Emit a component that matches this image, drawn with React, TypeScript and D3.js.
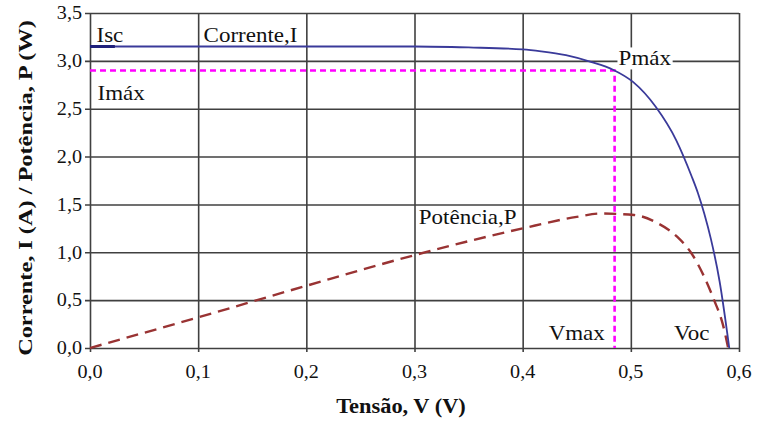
import React, { useRef, useEffect } from 'react';
import * as d3 from 'd3';

// I-V curve of the cell
const voltage = [0, 0.1, 0.2, 0.3, 0.35, 0.4, 0.417, 0.44, 0.463, 0.484, 0.502, 0.523, 0.542, 0.556, 0.562, 0.568, 0.574, 0.582, 0.591];
const current = [3.15, 3.15, 3.15, 3.15, 3.14, 3.12, 3.1, 3.06, 2.99, 2.905, 2.78, 2.52, 2.17, 1.8, 1.62, 1.4, 1.14, 0.7, 0.0];

// P-V curve
const powerVoltage = [0, 0.1, 0.2, 0.3, 0.4, 0.45, 0.472, 0.503, 0.522, 0.543, 0.556, 0.568, 0.577, 0.585, 0.59];
const power = [0, 0.32, 0.65, 0.97, 1.25, 1.37, 1.405, 1.39, 1.32, 1.16, 0.99, 0.74, 0.5, 0.25, 0];

// short highlighted Isc segment
const iscVoltage = [0, 0.023];
const iscCurrent = [3.15, 3.15];

const vMax = 0.485;
const iMax = 2.9;

const xTicks = [0, 0.1, 0.2, 0.3, 0.4, 0.5, 0.6];
const yTicks = [0, 0.5, 1.0, 1.5, 2.0, 2.5, 3.0, 3.5];

const labels = [
  { text: 'Isc', v: 0.006, y: 3.2 },
  { text: 'Corrente,I', v: 0.105, y: 3.2 },
  { text: 'Imáx', v: 0.007, y: 2.59 },
  { text: 'Potência,P', v: 0.304, y: 1.3 },
  { text: 'Vmax', v: 0.424, y: 0.08 },
  { text: 'Voc', v: 0.54, y: 0.08 },
];

const fmt = (d: number) => d3.format('.1f')(d).replace('.', ',');

export default function App() {
  const svgRef = useRef<SVGSVGElement>(null);

  useEffect(() => {
    if (!svgRef.current) return;
    const svg = d3.select(svgRef.current);
    svg.selectAll('*').remove();

    const margin = { top: 13, right: 22, bottom: 78, left: 90 };
    const width = 761 - margin.left - margin.right;
    const height = 426 - margin.top - margin.bottom;
    const font = 'Liberation Serif';

    const g = svg.append('g').attr('transform', `translate(${margin.left},${margin.top})`);

    const x = d3.scaleLinear().domain([0, 0.6]).range([0, width]);
    const y = d3.scaleLinear().domain([0, 3.5]).range([height, 0]);

    // grid + ticks
    g.append('g')
      .attr('transform', `translate(0,${height})`)
      .call(d3.axisBottom(x).tickValues(xTicks).tickSize(-height - 4).tickSizeOuter(0).tickFormat(() => ''))
      .call(a => a.select('.domain').remove())
      .call(a => a.selectAll('.tick line').attr('transform', 'translate(0,4)').attr('stroke', '#404040').attr('stroke-width', 1.6));

    g.append('g')
      .call(d3.axisLeft(y).tickValues(yTicks).tickSize(-width - 5).tickSizeOuter(0).tickFormat(() => ''))
      .call(a => a.select('.domain').remove())
      .call(a => a.selectAll('.tick line').attr('transform', 'translate(-5,0)').attr('stroke', '#404040').attr('stroke-width', 1.6));

    // tick labels
    g.selectAll('.xlab')
      .data(xTicks)
      .join('text')
      .attr('transform', d => `translate(${x(d)},${height + 30}) scale(1.12,1)`)
      .attr('text-anchor', 'middle')
      .attr('font-family', font).attr('font-size', 18).attr('fill', '#111')
      .text(fmt);

    g.selectAll('.ylab')
      .data(yTicks)
      .join('text')
      .attr('transform', d => `translate(-8,${y(d)}) scale(1.12,1)`)
      .attr('text-anchor', 'end')
      .attr('dy', '0.35em')
      .attr('font-family', font).attr('font-size', 18).attr('fill', '#111')
      .text(fmt);

    // axis titles
    svg.append('text')
      .attr('transform', `translate(401,413) scale(1.12,1)`)
      .attr('text-anchor', 'middle')
      .attr('font-family', font).attr('font-size', 20).attr('font-weight', 'bold').attr('fill', '#111')
      .text('Tensão, V (V)');

    svg.append('text')
      .attr('transform', `translate(32,188) rotate(-90) scale(1.28,1)`)
      .attr('text-anchor', 'middle')
      .attr('font-family', font).attr('font-size', 19).attr('font-weight', 'bold').attr('fill', '#111')
      .text('Corrente, I (A) / Potência, P (W)');

    // Pmáx label with white box
    const pm = g.append('g').attr('transform', `translate(${x(vMax) + 4},${y(iMax) - 5}) scale(1.15,1)`);
    pm.append('rect').attr('x', -1).attr('y', -18).attr('width', 48).attr('height', 22).attr('fill', '#fff');
    pm.append('text')
      .attr('font-family', font).attr('font-size', 20).attr('fill', '#111')
      .text('Pmáx');

    // max power guides
    g.append('path')
      .datum([[0, iMax], [vMax, iMax], [vMax, 0]] as [number, number][])
      .attr('fill', 'none')
      .attr('stroke', '#ff00ff')
      .attr('stroke-width', 2.6)
      .attr('stroke-dasharray', '6,4')
      .attr('d', d3.line<[number, number]>().x(d => x(d[0])).y(d => y(d[1])));

    // power curve
    const pData = powerVoltage.map((v, i) => [v, power[i]] as [number, number]);
    g.append('path')
      .datum(pData)
      .attr('fill', 'none')
      .attr('stroke', '#993333')
      .attr('stroke-width', 2.4)
      .attr('stroke-dasharray', '12,7')
      .attr('d', d3.line<[number, number]>().x(d => x(d[0])).y(d => y(d[1])).curve(d3.curveMonotoneX));

    // current curve
    const iData = voltage.map((v, i) => [v, current[i]] as [number, number]);
    g.append('path')
      .datum(iData)
      .attr('fill', 'none')
      .attr('stroke', '#3a3a9a')
      .attr('stroke-width', 1.8)
      .attr('d', d3.line<[number, number]>().x(d => x(d[0])).y(d => y(d[1])).curve(d3.curveMonotoneX));

    const iscData = iscVoltage.map((v, i) => [v, iscCurrent[i]] as [number, number]);
    g.append('path')
      .datum(iscData)
      .attr('fill', 'none')
      .attr('stroke', '#20207a')
      .attr('stroke-width', 3)
      .attr('d', d3.line<[number, number]>().x(d => x(d[0])).y(d => y(d[1])));

    // annotations
    g.selectAll('.ann')
      .data(labels)
      .join('text')
      .attr('transform', d => `translate(${x(d.v)},${y(d.y)}) scale(1.15,1)`)
      .attr('font-family', font).attr('font-size', 20).attr('fill', '#111')
      .text(d => d.text);
  }, []);

  return (
    <svg
      ref={svgRef}
      width={761}
      height={426}
      style={{ position: 'absolute', left: 0, top: 0, background: '#fff' }}
    />
  );
}
